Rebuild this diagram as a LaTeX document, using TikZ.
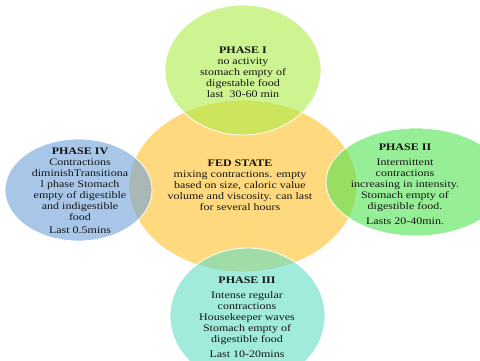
\documentclass[tikz,border=0pt]{standalone}
\usepackage{fontspec}
\setmainfont{Liberation Serif}[FakeStretch=1.2]
\definecolor{fedc}{RGB}{255,217,125}
\definecolor{p1c}{RGB}{172,238,72}
\definecolor{p2c}{RGB}{80,227,80}
\definecolor{p3c}{RGB}{97,223,197}
\definecolor{p4c}{RGB}{110,163,217}
\definecolor{txt}{RGB}{20,20,20}
\begin{document}
\begin{tikzpicture}[x=1pt,y=-1pt,
  blob/.style={draw=white,line width=0.8pt},
  phase/.style={blob,fill opacity=0.6},
  lbl/.style={align=center,inner sep=0pt,text=txt,font=\fontsize{10}{11}\selectfont}]
\useasboundingbox (0,0) rectangle (480,360);
\fill[white] (0,0) rectangle (480,360);
\path[blob,fill=fedc] (243,186) ellipse [x radius=114,y radius=86];
\path[phase,fill=p1c] (243,70) ellipse [x radius=78,y radius=65];
\path[phase,fill=p4c] (78.5,190) ellipse [x radius=73.5,y radius=51];
\path[phase,fill=p2c] (416,182) ellipse [x radius=90,y radius=54];
\path[phase,fill=p3c] (247.5,316) ellipse [x radius=77.5,y radius=68];
\node[lbl] (fed) at (240,185) {\textbf{FED STATE}\\mixing contractions. empty\\based on size, caloric value\\volume and viscosity. can last\\for several hours};
\node[lbl] (p1) at (243,72) {\textbf{PHASE I}\\no activity\\stomach empty of\\digestable food\\last\ \ 30-60 min};
\node[lbl] (p4) at (80,191) {\textbf{PHASE IV}\\Contractions\\diminishTransitiona\\l phase Stomach\\empty of digestible\\and indigestible\\food\\[2pt]Last 0.5mins};
\node[lbl] (p2) at (405,184) {\textbf{PHASE II}\\[4pt]Intermittent\\contractions\\increasing in intensity.\\Stomach empty of\\digestible food.\\[4pt]Lasts 20-40min.};
\node[lbl] (p3) at (247,317) {\textbf{PHASE III}\\[4pt]Intense regular\\contractions\\Housekeeper waves\\Stomach empty of\\digestible food\\[4pt]Last 10-20mins};
\end{tikzpicture}
\end{document}
